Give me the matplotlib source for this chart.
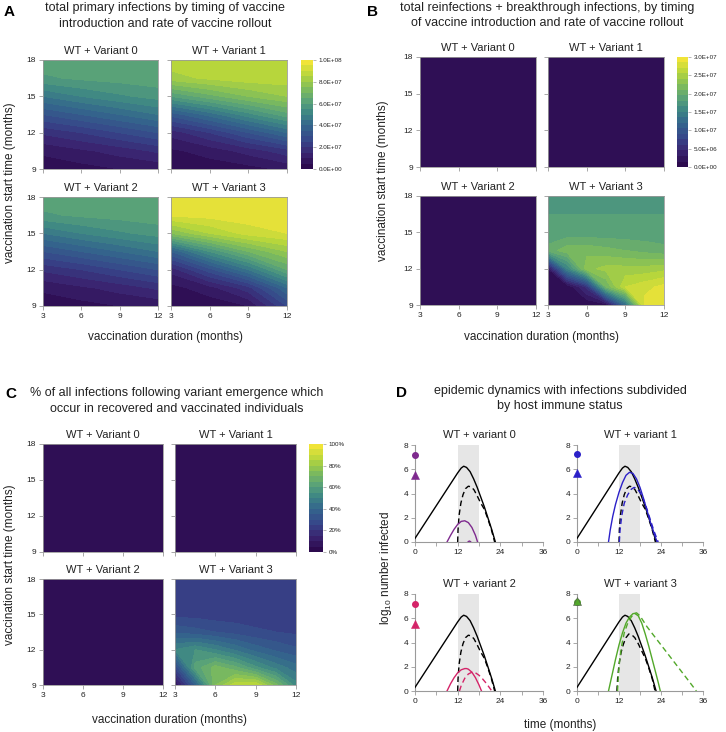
import numpy as np
import matplotlib
matplotlib.use('Agg')
import matplotlib.pyplot as plt
from matplotlib.colors import LinearSegmentedColormap, BoundaryNorm

plt.rcParams['font.family'] = ['Liberation Sans', 'DejaVu Sans']
plt.rcParams['mathtext.fontset'] = 'custom'
plt.rcParams['mathtext.rm'] = 'Liberation Sans'

# ---------------- data ----------------
durations_a = [3, 6, 9, 12]
starts = [9, 10.5, 12, 13.5, 15, 16.5, 18]
durations_bc = [3, 4.5, 6, 7.5, 9, 10.5, 12]

# Panel A: total primary infections (units of 1e7), rows = start times, cols = durations
a_v0 = [[0.2, 0.3, 0.5, 0.6],
        [0.6, 0.9, 1.2, 1.6],
        [1.6, 2.0, 2.5, 3.0],
        [3.0, 3.5, 4.0, 4.5],
        [4.5, 5.0, 5.4, 5.7],
        [5.9, 6.1, 6.2, 6.3],
        [6.3, 6.3, 6.3, 6.3]]
a_v1 = [[0.1, 0.2, 0.3, 0.6],
        [0.4, 0.7, 1.2, 1.8],
        [1.2, 2.0, 3.0, 4.0],
        [3.2, 4.2, 5.3, 6.3],
        [6.0, 6.8, 7.5, 8.0],
        [8.3, 8.6, 8.8, 8.8],
        [8.8, 8.8, 8.8, 8.8]]
a_v2 = [[0.2, 0.3, 0.5, 0.6],
        [0.6, 0.9, 1.2, 1.6],
        [1.6, 2.0, 2.5, 3.0],
        [3.0, 3.5, 4.0, 4.5],
        [4.5, 5.0, 5.4, 5.7],
        [5.9, 6.1, 6.2, 6.3],
        [6.3, 6.3, 6.3, 6.3]]
a_v3 = [[0.05, 0.15, 0.5, 2.5],
        [0.3, 0.8, 1.8, 4.0],
        [1.2, 2.8, 4.5, 6.5],
        [3.5, 5.5, 7.0, 8.0],
        [7.5, 8.5, 9.2, 9.5],
        [9.6, 9.7, 9.8, 9.8],
        [9.8, 9.8, 9.8, 9.8]]

# Panel B: reinfections + breakthrough infections (units of 1e7)
b_v0 = [[0.0] * 7 for _ in range(7)]
b_v1 = [[0.0] * 7 for _ in range(7)]
b_v2 = [[0.0] * 7 for _ in range(7)]
b_v3 = [[0.0, 0.0, 0.0, 0.02, 1.2, 2.9, 3.0],
        [0.0, 0.0, 0.5, 2.1, 2.7, 2.8, 2.9],
        [0.15, 1.5, 2.35, 2.45, 2.45, 2.45, 2.5],
        [2.0, 2.2, 2.2, 2.15, 2.1, 2.05, 2.0],
        [1.85, 1.85, 1.85, 1.85, 1.85, 1.85, 1.85],
        [1.8, 1.8, 1.8, 1.8, 1.8, 1.8, 1.8],
        [1.8, 1.8, 1.8, 1.8, 1.8, 1.8, 1.8]]

# Panel C: % of infections in recovered / vaccinated
c_v0 = [[0.0] * 7 for _ in range(7)]
c_v1 = [[0.0] * 7 for _ in range(7)]
c_v2 = [[0.0] * 7 for _ in range(7)]
c_v3 = [[3, 35, 75, 88, 90, 72, 52],
        [25, 62, 72, 66, 56, 48, 42],
        [50, 55, 50, 44, 38, 34, 31],
        [34, 32, 30, 28, 26, 25, 24],
        [23, 23, 22, 22, 22, 21, 21],
        [21, 21, 21, 21, 21, 21, 21],
        [21, 21, 21, 21, 21, 21, 21]]

cbar_a_ticks = [0, 2e7, 4e7, 6e7, 8e7, 1e8]
cbar_a_labels = ['0.0E+00', '2.0E+07', '4.0E+07', '6.0E+07', '8.0E+07', '1.0E+08']
cbar_b_ticks = [0, 5e6, 1e7, 1.5e7, 2e7, 2.5e7, 3e7]
cbar_b_labels = ['0.0E+00', '5.0E+06', '1.0E+07', '1.5E+07', '2.0E+07', '2.5E+07', '3.0E+07']
cbar_c_ticks = [0, 20, 40, 60, 80, 100]
cbar_c_labels = ['0%', '20%', '40%', '60%', '80%', '100%']

# Panel D: epidemic dynamics (log10 number infected vs time in months)
wt_t = [0, 2, 4, 6, 8, 10, 11, 12, 13, 13.7, 14.5, 15.5, 16.5, 17.5, 18.5, 19.5, 20.5, 21.5, 22.2, 22.6]
wt_y = [0.3, 1.2, 2.1, 3.0, 3.9, 4.8, 5.25, 5.7, 6.1, 6.25, 6.15, 5.8, 5.2, 4.5, 3.7, 2.9, 2.0, 1.1, 0.4, 0]
wtb_t = [12.0, 12.1, 12.4, 12.9, 13.5, 14.2, 15.0, 15.8, 16.6, 17.5, 18.5, 19.5, 20.5, 21.5, 22.4]
wtb_y = [0, 1.0, 2.2, 3.2, 3.9, 4.4, 4.6, 4.55, 4.3, 3.8, 3.2, 2.7, 1.9, 1.0, 0]
wtb3_t = [11.4, 11.6, 12.0, 12.6, 13.3, 14.0, 14.8, 15.6, 16.5, 17.5, 18.5, 19.5, 20.5, 21.5, 22.3]
wtb3_y = [0, 1.0, 2.2, 3.2, 3.9, 4.4, 4.7, 4.65, 4.4, 3.9, 3.3, 2.7, 1.9, 1.0, 0]

v0_t = [9.0, 10, 11, 12, 13, 14, 15, 16, 17, 17.6]
v0_y = [0, 0.55, 1.05, 1.45, 1.7, 1.75, 1.6, 1.2, 0.55, 0]
v0b_t = [14.8, 15.3, 15.8]
v0b_y = [0, 0.08, 0]

v1_t = [9.0, 9.5, 10.2, 11, 12, 13, 14, 15, 16, 17, 18, 19, 20, 21, 22, 22.9]
v1_y = [0, 1.0, 2.1, 3.1, 4.1, 4.9, 5.5, 5.75, 5.65, 5.2, 4.5, 3.6, 2.6, 1.6, 0.7, 0]
v1b_t = [12.1, 12.3, 12.8, 13.5, 14.5, 15.5, 16.3, 17, 18, 19, 20, 21, 22, 23.2]
v1b_y = [0, 1.0, 2.2, 3.2, 3.9, 4.35, 4.5, 4.45, 4.1, 3.5, 2.7, 1.8, 0.9, 0]

v2_t = [9.0, 10, 11, 12, 13, 14, 14.5, 15, 16, 17, 18, 18.7]
v2_y = [0, 0.6, 1.1, 1.5, 1.75, 1.85, 1.85, 1.8, 1.55, 1.1, 0.5, 0]
v2b_t = [12.5, 13, 14, 15, 16, 17, 18, 19, 20, 21, 21.6]
v2b_y = [0, 0.45, 1.05, 1.4, 1.55, 1.5, 1.3, 1.0, 0.65, 0.25, 0]

v3_t = [9.0, 10, 11, 12, 13, 14, 15, 16, 16.5, 17.5, 18.5, 19.5, 20.5, 21.5, 22.5, 23.3, 23.8]
v3_y = [0, 1.3, 2.6, 3.8, 4.8, 5.6, 6.1, 6.38, 6.4, 6.2, 5.6, 4.7, 3.7, 2.6, 1.5, 0.6, 0]
v3b_t = [11.6, 11.8, 12.2, 12.8, 13.5, 14.5, 15.5, 16.3, 17, 18, 20, 24, 28, 32, 34.1]
v3b_y = [0, 1.2, 2.6, 3.8, 4.8, 5.6, 6.1, 6.38, 6.45, 6.2, 5.3, 3.8, 2.3, 0.8, 0]

marker_circle = [7.15, 7.25, 7.15, 7.3]
marker_triangle = [5.5, 5.7, 5.5, 7.45]
variant_colors = ['#7e2a8e', '#2b20c8', '#d42468', '#52a82a']

# muted viridis-like palette as seen in the reference
cmap_ref = LinearSegmentedColormap.from_list('ref', [
    (0.00, '#2c0a4e'), (0.12, '#3a2470'), (0.25, '#36468a'), (0.40, '#34688c'),
    (0.52, '#3f8884'), (0.62, '#57a07a'), (0.75, '#80bd5a'), (0.88, '#b8d63c'),
    (1.00, '#f0e438')])

# ---------------- layout helpers ----------------
W, H = 726, 732
fig = plt.figure(figsize=(W / 100, H / 100), dpi=100)


def add_ax(x0, y0, x1, y1):
    return fig.add_axes([x0 / W, 1 - y1 / H, (x1 - x0) / W, (y1 - y0) / H])


def ftext(x, y, s, **kw):
    fig.text(x / W, 1 - y / H, s, **kw)


SPINE = '#9a9a9a'
TXT = '#222222'


def style_axes(ax):
    for side in ['top', 'right', 'left', 'bottom']:
        ax.spines[side].set_color(SPINE)
        ax.spines[side].set_linewidth(0.6)
    ax.tick_params(colors=SPINE, labelcolor=TXT, labelsize=6, length=3, width=0.6, pad=2)


def heat(box, durs, Z, scale, levels, title, xlabels, ylabels):
    ax = add_ax(*box)
    ax.set_facecolor(cmap_ref(0.0))
    Zs = np.array(Z, dtype=float) * scale
    ax.contourf(durs, starts, Zs, levels=levels, cmap=cmap_ref)
    ax.set_xlim(3, 12)
    ax.set_ylim(9, 18)
    ax.set_xticks([3, 6, 9, 12])
    ax.set_yticks([9, 12, 15, 18])
    style_axes(ax)
    if not xlabels:
        ax.set_xticklabels([])
    if not ylabels:
        ax.set_yticklabels([])
    ax.set_title(title, fontsize=8, pad=4, color=TXT)
    return ax


def cbar(box, levels, ticks, labels):
    cax = add_ax(*box)
    levels = np.asarray(levels)
    mids = ((levels[:-1] + levels[1:]) / 2).reshape(-1, 1)
    cax.pcolormesh([0, 1], levels, mids, cmap=cmap_ref,
                   norm=BoundaryNorm(levels, cmap_ref.N), shading='flat')
    cax.set_xlim(0, 1)
    cax.set_ylim(levels[0], levels[-1])
    for s in cax.spines.values():
        s.set_visible(False)
    cax.set_xticks([])
    cax.yaxis.tick_right()
    cax.set_yticks(ticks)
    cax.set_yticklabels(labels)
    cax.tick_params(axis='y', labelsize=4.5, colors=SPINE, labelcolor=TXT, length=2, width=0.5, pad=2)
    return cax


titles_h = ['WT + Variant 0', 'WT + Variant 1', 'WT + Variant 2', 'WT + Variant 3']

# ---------------- Panel A ----------------
levels_a = np.linspace(0, 1e8, 21)
boxes_a = [(43, 60, 158, 169), (171, 60, 287, 169), (43, 197, 158, 306), (171, 197, 287, 306)]
for i, Z in enumerate([a_v0, a_v1, a_v2, a_v3]):
    heat(boxes_a[i], durations_a, Z, 1e7, levels_a, titles_h[i], i >= 2, i % 2 == 0)
cbar((301, 60, 313, 169), levels_a, cbar_a_ticks, cbar_a_labels)
ftext(4, 12, 'A', fontsize=11, fontweight='bold', va='center', ha='left')
ftext(165, 8, 'total primary infections by timing of vaccine', fontsize=9, ha='center', va='center', color=TXT)
ftext(165, 24, 'introduction and rate of vaccine rollout', fontsize=9, ha='center', va='center', color=TXT)
ftext(165, 337, 'vaccination duration (months)', fontsize=8.5, ha='center', va='center', color=TXT)
ftext(10, 183, 'vaccination start time (months)', fontsize=8.5, ha='center', va='center', rotation=90, color=TXT)

# ---------------- Panel B ----------------
levels_b = np.linspace(0, 3e7, 21)
boxes_b = [(420, 57, 536, 167), (548, 57, 664, 167), (420, 196, 536, 305), (548, 196, 664, 305)]
for i, Z in enumerate([b_v0, b_v1, b_v2, b_v3]):
    heat(boxes_b[i], durations_bc, Z, 1e7, levels_b, titles_h[i], i >= 2, i % 2 == 0)
cbar((677, 57, 688, 167), levels_b, cbar_b_ticks, cbar_b_labels)
ftext(367, 12, 'B', fontsize=11, fontweight='bold', va='center', ha='left')
ftext(547, 8, 'total reinfections + breakthrough infections, by timing', fontsize=9, ha='center', va='center', color=TXT)
ftext(547, 23, 'of vaccine introduction and rate of vaccine rollout', fontsize=9, ha='center', va='center', color=TXT)
ftext(542, 337, 'vaccination duration (months)', fontsize=8.5, ha='center', va='center', color=TXT)
ftext(383, 181, 'vaccination start time (months)', fontsize=8.5, ha='center', va='center', rotation=90, color=TXT)

# ---------------- Panel C ----------------
levels_c = np.linspace(0, 100, 21)
boxes_c = [(43, 444, 163, 552), (175, 444, 296, 552), (43, 579, 163, 685), (175, 579, 296, 685)]
for i, Z in enumerate([c_v0, c_v1, c_v2, c_v3]):
    heat(boxes_c[i], durations_bc, Z, 1.0, levels_c, titles_h[i], i >= 2, i % 2 == 0)
cbar((309, 444, 323, 552), levels_c, cbar_c_ticks, cbar_c_labels)
ftext(5, 394, 'C', fontsize=11, fontweight='bold', va='center', ha='left')
ftext(177, 393, '% of all infections following variant emergence which', fontsize=9, ha='center', va='center', color=TXT)
ftext(177, 409, 'occur in recovered and vaccinated individuals', fontsize=9, ha='center', va='center', color=TXT)
ftext(170, 720, 'vaccination duration (months)', fontsize=8.5, ha='center', va='center', color=TXT)
ftext(10, 565, 'vaccination start time (months)', fontsize=8.5, ha='center', va='center', rotation=90, color=TXT)

# ---------------- Panel D ----------------
boxes_d = [(415, 445, 543, 542), (577, 445, 703, 542), (415, 594, 543, 691), (577, 594, 703, 691)]
titles_d = ['WT + variant 0', 'WT + variant 1', 'WT + variant 2', 'WT + variant 3']
var_solid = [(v0_t, v0_y), (v1_t, v1_y), (v2_t, v2_y), (v3_t, v3_y)]
var_dash = [(v0b_t, v0b_y), (v1b_t, v1b_y), (v2b_t, v2b_y), (v3b_t, v3b_y)]
wt_dash = [(wtb_t, wtb_y), (wtb_t, wtb_y), (wtb_t, wtb_y), (wtb3_t, wtb3_y)]
for i in range(4):
    ax = add_ax(*boxes_d[i])
    ax.axvspan(12, 18, color='#e6e6e6', lw=0, zorder=0)
    ax.plot(wt_t, wt_y, color='black', lw=1.0, zorder=3)
    ax.plot(*wt_dash[i], color='black', lw=1.0, ls=(0, (4, 2.5)), zorder=3)
    c = variant_colors[i]
    ax.plot(*var_solid[i], color=c, lw=1.0, zorder=4)
    ax.plot(*var_dash[i], color=c, lw=1.0, ls=(0, (4, 2.5)), zorder=4)
    ax.plot([0], [marker_circle[i]], 'o', color=c, ms=4, clip_on=False, zorder=5)
    ax.plot([0], [marker_triangle[i]], '^', color=c, ms=5.5, mec='#555555' if i == 3 else c,
            mew=0.4, clip_on=False, zorder=6)
    ax.set_xlim(0, 36)
    ax.set_ylim(0, 8)
    ax.set_xticks([0, 12, 24, 36])
    ax.set_xticks([6, 18, 30], minor=True)
    ax.set_yticks([0, 2, 4, 6, 8])
    ax.spines['top'].set_visible(False)
    ax.spines['right'].set_visible(False)
    for side in ['left', 'bottom']:
        ax.spines[side].set_color(SPINE)
        ax.spines[side].set_linewidth(0.8)
    ax.tick_params(which='both', colors=SPINE, labelcolor=TXT, labelsize=6, length=3, width=0.6, pad=2)
    ax.set_title(titles_d[i], fontsize=8, pad=5, color=TXT)
ftext(396, 393, 'D', fontsize=11, fontweight='bold', va='center', ha='left')
ftext(560, 391, 'epidemic dynamics with infections subdivided', fontsize=9, ha='center', va='center', color=TXT)
ftext(560, 406, 'by host immune status', fontsize=9, ha='center', va='center', color=TXT)
ftext(560, 725, 'time (months)', fontsize=8.5, ha='center', va='center', color=TXT)
ftext(386, 568, r'log$_{10}$ number infected', fontsize=8.5, ha='center', va='center', rotation=90, color=TXT)

fig.savefig('out.png', dpi=100)
